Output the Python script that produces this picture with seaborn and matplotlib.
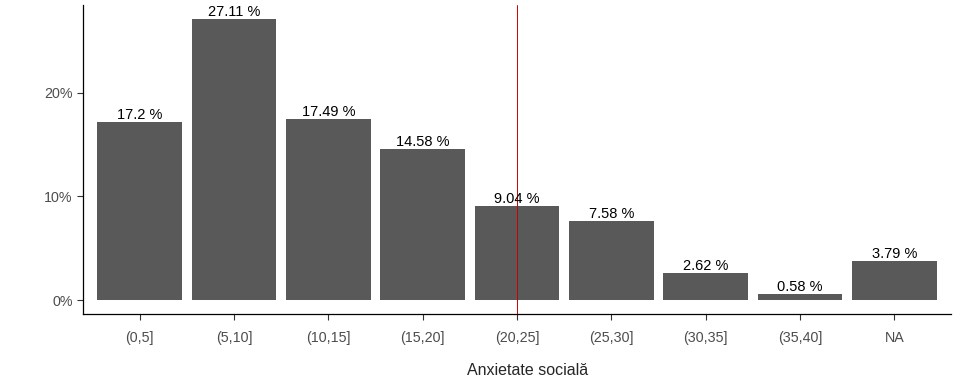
import matplotlib
matplotlib.use("Agg")
import matplotlib.pyplot as plt
import seaborn as sns
import pandas as pd

categories = ['(0,5]', '(5,10]', '(10,15]', '(15,20]', '(20,25]', '(25,30]', '(30,35]', '(35,40]', 'NA']
percent = [17.2, 27.11, 17.49, 14.58, 9.04, 7.58, 2.62, 0.58, 3.79]
labels = ['17.2 %', '27.11 %', '17.49 %', '14.58 %', '9.04 %', '7.58 %', '2.62 %', '0.58 %', '3.79 %']
yticks = [0, 10, 20]
ytick_labels = ['0%', '10%', '20%']
vline_pos = 4

sns.set_style('ticks')
plt.rcParams['font.family'] = ['Liberation Sans', 'DejaVu Sans']

df = pd.DataFrame({'cat': categories, 'pct': percent})

fig = plt.figure(figsize=(9.6, 3.84), dpi=100)
ax = fig.add_axes([0.0865, 0.182, 0.904, 0.805])

sns.barplot(data=df, x='cat', y='pct', color='#595959', saturation=1, width=0.9,
            edgecolor='none', ax=ax)
for i, (v, t) in enumerate(zip(percent, labels)):
    ax.text(i, v, t, ha='center', va='bottom', fontsize=10.5, color='black')

ax.axvline(vline_pos, color='#cc0000', lw=0.7)

ax.set_xlim(-0.6, len(categories) - 0.4)
ax.set_ylim(-0.05 * max(percent), max(percent) * 1.05)
ax.set_yticks(yticks)
ax.set_yticklabels(ytick_labels)
ax.set_xlabel('Anxietate socială', fontsize=11.5)
ax.xaxis.set_label_coords(0.5127, -0.158)
ax.set_ylabel('')

sns.despine(ax=ax)
for s in ['left', 'bottom']:
    ax.spines[s].set_linewidth(0.9)
    ax.spines[s].set_color('black')
ax.tick_params(axis='both', length=4, width=0.8, color='#333333', labelcolor='#4d4d4d', labelsize=10.3)
ax.tick_params(axis='x', pad=8)

fig.savefig('out.png', dpi=100)
